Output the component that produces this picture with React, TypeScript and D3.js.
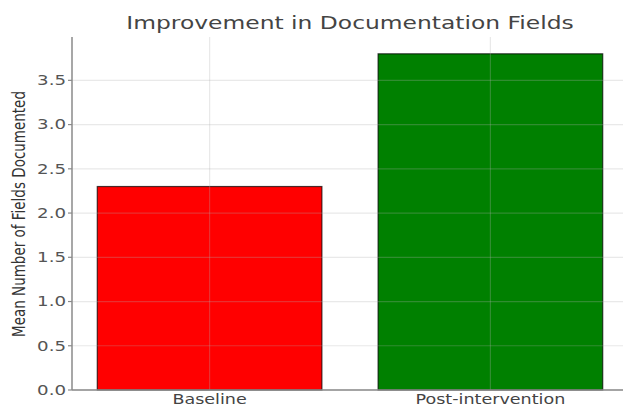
import React from "react";
import * as d3 from "d3";

const categories = ["Baseline", "Post-intervention"];
const values = [2.3, 3.8];
const barColors = ["#ff0000", "#008000"];
const yTicks = [0, 0.5, 1.0, 1.5, 2.0, 2.5, 3.0, 3.5];
const title = "Improvement in Documentation Fields";
const yLabel = "Mean Number of Fields Documented";

const W = 623;
const H = 410;
const left = 72;
const right = 628;
const top = 37;
const bottom = 390;
const SX = 1.3;
const font = "DejaVu Sans, sans-serif";

export default function App() {
  const yMax = d3.max(values)! * 1.05;
  const y = d3.scaleLinear().domain([0, yMax]).range([bottom, top]);
  const idx = categories.map((_, i) => i);
  const x = d3.scaleLinear().domain([-0.49, categories.length - 1 + 0.49]).range([left, right]);
  const bw = x(0.4) - x(-0.4);

  return (
    <div style={{ position: "fixed", left: 0, top: 0 }}>
      <svg width={W} height={H} style={{ display: "block", background: "#fff" }}>
        {/* bars */}
        {idx.map((i) => (
          <rect
            key={categories[i]}
            x={x(i - 0.4)}
            y={y(values[i])}
            width={bw}
            height={y(0) - y(values[i])}
            fill={barColors[i]}
            stroke="#000"
            strokeOpacity={0.7}
            strokeWidth={1.2}
          />
        ))}
        {/* grid */}
        <g stroke="#b0b0b0" strokeOpacity={0.28} strokeWidth={1.2}>
          {yTicks.map((t) => (
            <line key={t} x1={left} x2={W} y1={y(t)} y2={y(t)} />
          ))}
          {idx.map((i) => (
            <line key={i} x1={x(i)} x2={x(i)} y1={top} y2={bottom} />
          ))}
        </g>
        {/* spines */}
        <line x1={left} x2={left} y1={top} y2={bottom} stroke="#8a8a8a" strokeWidth={1.5} />
        <line x1={left} x2={W} y1={bottom} y2={bottom} stroke="#8a8a8a" strokeWidth={1.5} />
        {/* y ticks */}
        {yTicks.map((t) => (
          <g key={t}>
            <line x1={left - 4} x2={left} y1={y(t)} y2={y(t)} stroke="#8a8a8a" strokeWidth={1.2} />
            <text
              transform={`translate(${left - 6},${y(t)}) scale(${SX},1)`}
              textAnchor="end"
              dominantBaseline="central"
              fontFamily={font}
              fontSize={14}
              fill="#555"
            >
              {t.toFixed(1)}
            </text>
          </g>
        ))}
        {/* x labels */}
        {idx.map((i) => (
          <text
            key={categories[i]}
            transform={`translate(${x(i)},${bottom + 14}) scale(${SX},1)`}
            textAnchor="middle"
            fontFamily={font}
            fontSize={13.5}
            fill="#444"
          >
            {categories[i]}
          </text>
        ))}
        {/* y label */}
        <text
          transform={`translate(25,214) scale(${SX},1) rotate(-90)`}
          textAnchor="middle"
          fontFamily={font}
          fontSize={13.5}
          fill="#333"
        >
          {yLabel}
        </text>
        {/* title */}
        <text
          transform={`translate(${(left + right) / 2},29) scale(${SX},1)`}
          textAnchor="middle"
          fontFamily={font}
          fontSize={18}
          fill="#444"
        >
          {title}
        </text>
      </svg>
    </div>
  );
}
